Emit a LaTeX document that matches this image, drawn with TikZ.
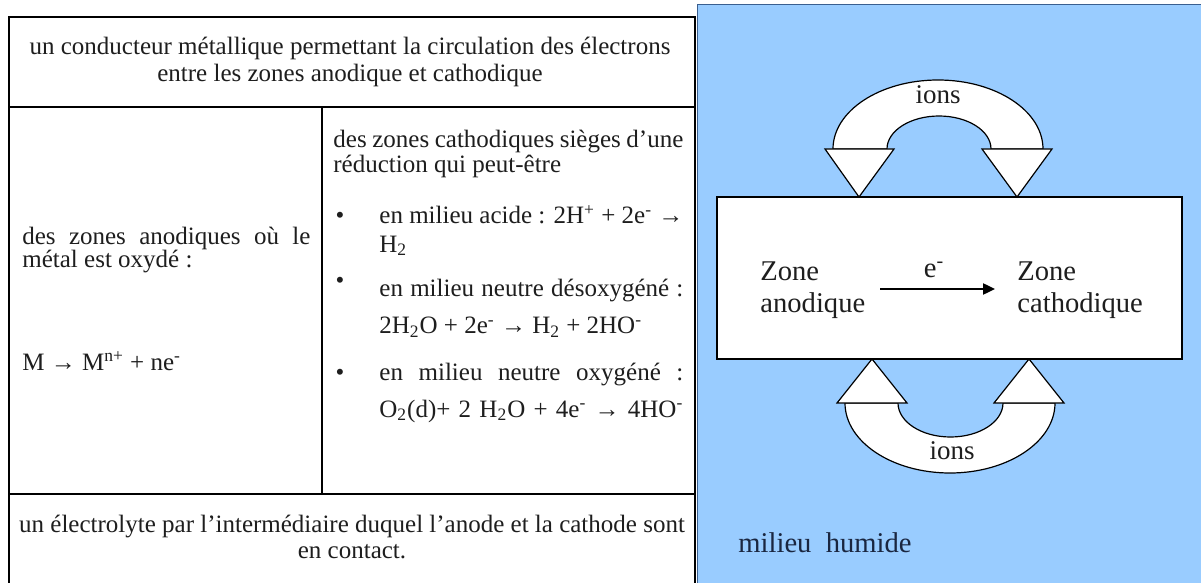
\documentclass[tikz,border=0pt]{standalone}
\usepackage{fontspec}
\setmainfont{Liberation Serif}
\usetikzlibrary{arrows.meta}
\definecolor{panelblue}{HTML}{99CCFF}
\definecolor{panelborder}{HTML}{3A5F8F}
\definecolor{ink}{HTML}{1E1E1E}
\definecolor{navyink}{HTML}{1A2640}
\begin{document}
\begin{tikzpicture}[x=0.5pt,y=-0.5pt,
  tab/.style={font=\fontsize{12.5}{13.5}\selectfont, text=ink, inner sep=0pt, text height=8.4pt, text depth=2pt},
  big/.style={font=\fontsize{14.3}{16.5}\selectfont, text=ink, inner sep=0pt},
  ionsf/.style={font=\fontsize{13.5}{15}\selectfont, text=ink, inner sep=0pt},
  rule/.style={line width=0.6pt, draw=black},
  ionshape/.style={draw=black, fill=white, line width=0.6pt, line join=miter},
]
\useasboundingbox (0,0) rectangle (1201,583);
\fill[white] (0,0) rectangle (1201,583);
% ---------------- table ----------------
\draw[rule] (9,590) -- (9,17) -- (695,17) -- (695,590);
\draw[line width=1.3pt] (9,107) -- (695,107);
\draw[rule] (322,107) -- (322,494);
\draw[line width=0.8pt] (9,494) -- (695,494);
% top row
\node[tab, anchor=base] (t1) at (350,55) {un conducteur métallique permettant la circulation des électrons};
\node[tab, anchor=base] (t2) at (350,82) {entre les zones anodique et cathodique};
% left cell
\node[tab, anchor=base west] (a1) at (22,244) {\makebox[144pt][s]{des zones anodiques où le}};
\node[tab, anchor=base west] (a2) at (22,268) {métal est oxydé :};
\node[tab, anchor=base west] (a3) at (22,370) {M → M\textsuperscript{n+} + ne\textsuperscript{-}};
% right cell
\node[tab, anchor=base west] (c1) at (333,148) {\makebox[175pt][s]{des zones cathodiques sièges d'une}};
\node[tab, anchor=base west] (c2) at (333,173) {réduction qui peut-être};
\node[tab, anchor=base] (b1) at (340,224) {•};
\node[tab, anchor=base west] (c3) at (379,224) {\makebox[152pt][s]{en milieu acide : 2H\textsuperscript{+} + 2e\textsuperscript{-} →}};
\node[tab, anchor=base west] (c4) at (379,252) {H\textsubscript{2}};
\node[tab, anchor=base] (b2) at (340,288) {•};
\node[tab, anchor=base west] (c5) at (379,297) {\makebox[152pt][s]{en milieu neutre désoxygéné :}};
\node[tab, anchor=base west] (c6) at (379,334) {2H\textsubscript{2}O + 2e\textsuperscript{-} → H\textsubscript{2} + 2HO\textsuperscript{-}};
\node[tab, anchor=base] (b3) at (340,380) {•};
\node[tab, anchor=base west] (c7) at (379,380) {\makebox[152pt][s]{en milieu neutre oxygéné :}};
\node[tab, anchor=base west] (c8) at (379,417) {\makebox[152pt][s]{O\textsubscript{2}(d)+ 2 H\textsubscript{2}O + 4e\textsuperscript{-} → 4HO\textsuperscript{-}}};
% bottom row
\node[tab, anchor=base] (e1) at (352,532) {un électrolyte par l'intermédiaire duquel l'anode et la cathode sont};
\node[tab, anchor=base] (e2) at (352,558) {en contact.};
% ---------------- right panel ----------------
\draw[fill=panelblue, draw=panelborder, line width=0.5pt] (697,5) rectangle (1201,590);
\draw[fill=white, draw=black, line width=0.6pt] (717,197) rectangle (1182,359);
% top arch
\draw[ionshape] (833,149) arc[start angle=180, end angle=0, x radius=52.5pt, y radius=34.5pt]
  -- (991,149) arc[start angle=0, end angle=180, x radius=26pt, y radius=16.5pt] -- cycle;
\draw[ionshape] (825,149) -- (894,149) -- (859,197) -- cycle;
\draw[ionshape] (982,149) -- (1052,149) -- (1017,197) -- cycle;
% bottom arch
\draw[ionshape] (845,403) arc[start angle=180, end angle=360, x radius=52.5pt, y radius=35pt]
  -- (1003,403) arc[start angle=360, end angle=180, x radius=26.25pt, y radius=17pt] -- cycle;
\draw[ionshape] (837,403) -- (907,403) -- (872,359) -- cycle;
\draw[ionshape] (994,403) -- (1064,403) -- (1029,359) -- cycle;
\node[ionsf, anchor=base] (i1) at (938,104) {ions};
\node[ionsf, anchor=base] (i2) at (952,459) {ions};
% zones
\node[big, anchor=base west] (za) at (760,280) {Zone};
\node[big, anchor=base west] (zb) at (760,313) {anodique};
\node[big, anchor=base west] (zc) at (1017,280) {Zone};
\node[big, anchor=base west] (zd) at (1017,313) {cathodique};
\coordinate (eA) at (880,289);
\coordinate (eB) at (995,289);
\draw[-{Triangle[length=6pt,width=5.5pt]}, line width=1.2pt] (eA) -- (eB);
\node[big, anchor=base] (el) at (934,278) {e\textsuperscript{-}};
\node[big, anchor=base west, text=navyink] (mh) at (738,552) {milieu\ \ humide};
\end{tikzpicture}
\end{document}
